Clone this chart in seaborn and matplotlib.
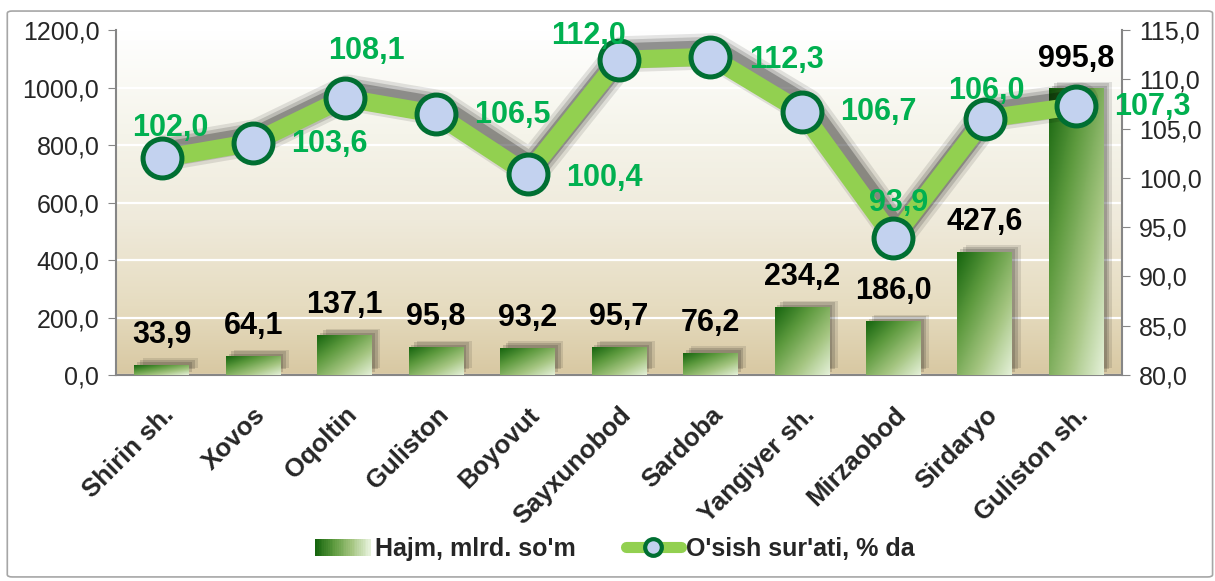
import numpy as np
import matplotlib
matplotlib.use('Agg')
import matplotlib.pyplot as plt
import seaborn as sns
from matplotlib import patheffects as pe
from matplotlib.colors import LinearSegmentedColormap
from matplotlib.legend_handler import HandlerBase
from matplotlib.patches import Rectangle, FancyBboxPatch
from matplotlib.lines import Line2D
from matplotlib.ticker import FuncFormatter
from matplotlib.transforms import ScaledTranslation

# Ma'lumotlar
tumanlar = ['Shirin sh.', 'Xovos', 'Oqoltin', 'Guliston', 'Boyovut', 'Sayxunobod',
            'Sardoba', 'Yangiyer sh.', 'Mirzaobod', 'Sirdaryo', 'Guliston sh.']
hajm = [33.9, 64.1, 137.1, 95.8, 93.2, 95.7, 76.2, 234.2, 186.0, 427.6, 995.8]
osish = [102.0, 103.6, 108.1, 106.5, 100.4, 112.0, 112.3, 106.7, 93.9, 106.0, 107.3]

# yorliqlar siljishi (punktlarda)
osish_siljish = [(6, 22), (55, -1), (16, 34), (55, -1), (55, -3), (-22, 17),
                 (55, -2), (55, 0), (4, 25), (1, 20), (55, -1)]

sns.set_style('white')
plt.rcParams['font.family'] = ['Liberation Sans', 'DejaVu Sans']

YASHIL = '#00B050'
CHIZIQ = '#92D050'
QOYUQ = '#006F32'

fon_cmap = LinearSegmentedColormap.from_list(
    'fon', [(0.0, '#d8c8a2'), (0.2, '#e6dcc0'), (0.45, '#efeadb'),
            (0.7, '#f5f4ea'), (1.0, '#ffffff')])
ustun_cmap = LinearSegmentedColormap.from_list(
    'ustun', ['#16650f', '#5d9a3e', '#a3c47f', '#e4f0d8'])


def fmt(v, pos=None):
    return f'{v:.1f}'.replace('.', ',')


fig = plt.figure(figsize=(12.15, 5.81), dpi=100)
ax = fig.add_axes([0.0955, 0.3546, 0.828, 0.5934])

# Fon gradienti
fon = np.linspace(0, 1, 256).reshape(-1, 1)
ax.imshow(fon, extent=[-0.5, 10.5, 0, 1200], origin='lower', aspect='auto',
          cmap=fon_cmap, zorder=0)

# Ustunlar
sns.barplot(x=tumanlar, y=hajm, ax=ax, width=0.6, color='white', zorder=2)
gx, gy = np.meshgrid(np.linspace(0, 1, 64), np.linspace(0, 1, 64))
ustun_grad = (gx + gy) / 2
for p in ax.patches:
    p.set_facecolor('none')
    p.set_edgecolor('none')
    p.set_path_effects([
        pe.SimplePatchShadow(offset=(2, 2), shadow_rgbFace='k', alpha=0.14),
        pe.SimplePatchShadow(offset=(4, 4), shadow_rgbFace='k', alpha=0.14),
        pe.SimplePatchShadow(offset=(6, 5), shadow_rgbFace='k', alpha=0.1),
        pe.Normal()])
    x0, y0 = p.get_x(), p.get_y()
    ax.imshow(ustun_grad, extent=[x0, x0 + p.get_width(), y0, y0 + p.get_height()],
              origin='upper', aspect='auto', cmap=ustun_cmap, zorder=3)

for i, v in enumerate(hajm):
    ax.annotate(fmt(v), (i, v), xytext=(0, 11), textcoords='offset points',
                ha='center', va='bottom', fontsize=22, fontweight='bold',
                color='black', zorder=5)

ax.set_xlim(-0.5, 10.5)
ax.set_ylim(0, 1200)
ax.set_yticks(np.arange(0, 1201, 200))
ax.yaxis.set_major_formatter(FuncFormatter(fmt))
ax.set_axisbelow(True)
ax.grid(axis='y', color='white', linewidth=1.6)
ax.grid(axis='x', visible=False)

ax.set_xticks(np.arange(-0.5, 11, 1))
ax.set_xticklabels([])
ax.set_xticks(np.arange(11), minor=True)
ax.set_xticklabels(tumanlar, minor=True, rotation=45, ha='right',
                   rotation_mode='anchor', fontsize=18.5, fontweight='bold')
siljish = ScaledTranslation(-6 / 72, 0, fig.dpi_scale_trans)
for lab in ax.get_xticklabels(minor=True):
    lab.set_transform(lab.get_transform() + siljish)
ax.tick_params(axis='x', which='minor', length=0, pad=20)
ax.tick_params(axis='x', which='major', length=6, color='#868686', direction='out')
ax.tick_params(axis='y', length=6, color='#868686', direction='out', labelsize=18, pad=6)
ax.set_xlabel('')
ax.set_ylabel('')
for s in ['left', 'bottom']:
    ax.spines[s].set_color('#868686')
    ax.spines[s].set_linewidth(1.5)
ax.spines['top'].set_visible(False)
ax.spines['right'].set_visible(False)

# O'sish sur'ati
ax2 = ax.twinx()
x = np.arange(len(osish))
sns.lineplot(x=x, y=osish, ax=ax2, color=CHIZIQ, linewidth=13, zorder=3,
             path_effects=[
                 pe.SimpleLineShadow(offset=(3, 4), shadow_color='k', alpha=0.1, linewidth=26),
                 pe.SimpleLineShadow(offset=(3, 4), shadow_color='k', alpha=0.15, linewidth=21),
                 pe.SimpleLineShadow(offset=(3, 4), shadow_color='k', alpha=0.25, linewidth=16),
                 pe.Normal()])
ax2.plot(x, osish, linestyle='none', marker='o', markersize=28,
         markerfacecolor='#c3d2ef', markeredgecolor=QOYUQ, markeredgewidth=3.6, zorder=4)
for i, v in enumerate(osish):
    ax2.annotate(fmt(v), (i, v), xytext=osish_siljish[i], textcoords='offset points',
                 ha='center', va='center', fontsize=22, fontweight='bold',
                 color=YASHIL, zorder=6)
ax2.set_ylim(80, 115)
ax2.set_yticks(np.arange(80, 116, 5))
ax2.yaxis.set_major_formatter(FuncFormatter(fmt))
ax2.tick_params(axis='y', length=6, color='#868686', direction='out', labelsize=18, pad=6)
ax2.spines['right'].set_color('#868686')
ax2.spines['right'].set_linewidth(1.5)
for s in ['top', 'left', 'bottom']:
    ax2.spines[s].set_visible(False)
ax2.set_ylabel('')
ax2.grid(False)


# Legenda
class GradientHandler(HandlerBase):
    def create_artists(self, legend, orig_handle, xdescent, ydescent,
                       width, height, fontsize, trans):
        n = 30
        qism = []
        for k in range(n):
            qism.append(Rectangle((-xdescent + k * width / n, -ydescent), width / n + 0.3,
                                  height, facecolor=ustun_cmap(k / (n - 1)),
                                  edgecolor='none', transform=trans))
        return qism


h1 = Rectangle((0, 0), 1, 1)
h2 = Line2D([], [], color=CHIZIQ, linewidth=8, marker='o', markersize=12,
            markerfacecolor='#c3d2ef', markeredgecolor=QOYUQ, markeredgewidth=3)
fig.legend([h1, h2], ["Hajm, mlrd. so'm", "O'sish sur'ati, % da"],
           handler_map={Rectangle: GradientHandler()},
           loc='center', bbox_to_anchor=(0.506, 0.055), ncol=2, frameon=False,
           prop={'weight': 'bold', 'size': 18}, handlelength=2.2, handleheight=0.7,
           handletextpad=0.2, columnspacing=2.0)

fig.patches.append(FancyBboxPatch((0.006, 0.007), 0.992, 0.974,
                                  boxstyle='round,pad=0,rounding_size=0.004',
                                  transform=fig.transFigure, facecolor='none',
                                  edgecolor='#a6a6a6', linewidth=1.2))

fig.savefig('out.png', dpi=100)
